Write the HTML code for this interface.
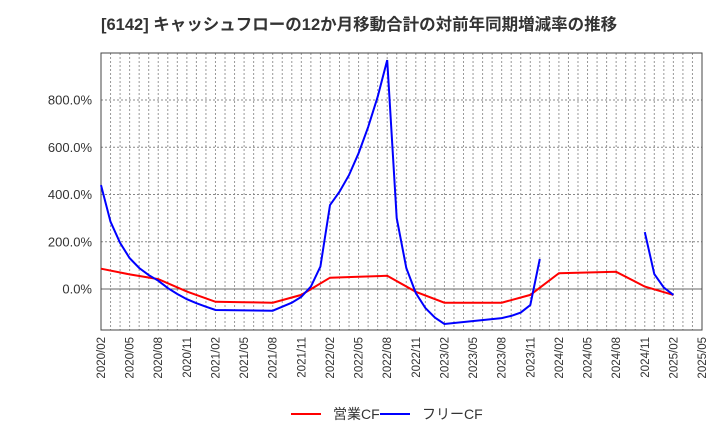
<!DOCTYPE html>
<html><head><meta charset="utf-8"><style>
body{margin:0;background:#fff;font-family:"Liberation Sans","Noto Sans CJK JP",sans-serif;}
</style></head><body>
<svg id="c" width="720" height="440" xmlns="http://www.w3.org/2000/svg" style="font-family:'Liberation Sans','Noto Sans CJK JP',sans-serif">
<text x="101" y="30" font-size="16.5" font-weight="bold" fill="#333">[6142]  キャッシュフローの12か月移動合計の対前年同期増減率の推移</text>
<g id="grid"></g><g id="axes"></g><g id="series"></g>
<g>
<line x1="291" y1="414" x2="321" y2="414" stroke="#f00" stroke-width="2"/>
<text x="333" y="419" font-size="14" fill="#333">営業CF</text>
<line x1="380" y1="414" x2="410" y2="414" stroke="#00f" stroke-width="2"/>
<text x="422" y="419" font-size="14" fill="#333">フリーCF</text>
</g>
</svg>
<script>
const yTicks=[0,200,400,600,800];
const xTickLabels=["2020/02","2020/05","2020/08","2020/11","2021/02","2021/05","2021/08","2021/11","2022/02","2022/05","2022/08","2022/11","2023/02","2023/05","2023/08","2023/11","2024/02","2024/05","2024/08","2024/11","2025/02","2025/05"];
const opMonths=[0,3,6,9,12,15,18,21,24,27,30,33,36,39,42,45,48,51,54,57,60];
const opValues=[86,62,42,-11,-54,-56,-58,-25,48,52,56,-12,-58,-58,-58,-25,67,70,73,10,-25];
const fcfMonths=[0,1,2,3,4,5,6,7,8,9,10,11,12,18,19,20,21,22,23,24,25,26,27,28,29,30,31,32,33,34,35,36,42,43,44,45,46,null,57,58,59,60];
const fcfValues=[440,285,195,131,89,59,35,4,-21,-43,-60,-75,-89,-92,-75,-58,-33,10,95,355,412,482,575,685,814,969,300,89,-17,-80,-121,-148,-123,-114,-100,-68,127,null,241,63,6,-25];
const L=101,R=702,T=53,B=330,NM=63;
const X=m=>L+m*(R-L)/NM;
const Y=v=>289-v*(289-100)/800;
const NS="http://www.w3.org/2000/svg";
function mk(p,t,a){const e=document.createElementNS(NS,t);for(const k in a)e.setAttribute(k,a[k]);p.appendChild(e);return e;}
const grid=document.getElementById('grid'),axes=document.getElementById('axes'),ser=document.getElementById('series');
for(let m=1;m<NM;m++){const l=mk(grid,'line',{x1:X(m),x2:X(m),y1:T,y2:B,stroke:'#999','stroke-dasharray':'2,2','stroke-width':1});

}
yTicks.forEach(v=>{const l=mk(grid,'line',{x1:L,x2:R,y1:Y(v),y2:Y(v),stroke:v===0?'#666':'#888','stroke-dasharray':v===0?'':'2,2','stroke-width':1});


const t=mk(axes,'text',{x:92,y:Y(v)+4.5,'text-anchor':'end','font-size':13,fill:'#333'});t.textContent=v.toFixed(1)+'%';

});
const fr=mk(axes,'rect',{x:L,y:T,width:R-L,height:B-T,fill:'none',stroke:'#444','stroke-width':1});


xTickLabels.forEach((s,i)=>{const x=X(i*3)+4;const t=mk(axes,'text',{x:0,y:0,'text-anchor':'end','font-size':11.5,fill:'#333',transform:`translate(${x},337) rotate(-90)`});t.textContent=s;

});
function path(ms,vs){let d='',pen=false;ms.forEach((m,i)=>{if(m===null||vs[i]===null){pen=false;return;}d+=(pen?'L':'M')+X(m).toFixed(1)+','+Y(vs[i]).toFixed(1);pen=true;});return d;}
const p1=mk(ser,'path',{d:path(opMonths,opValues),fill:'none',stroke:'#f00','stroke-width':2});


const p2=mk(ser,'path',{d:path(fcfMonths,fcfValues),fill:'none',stroke:'#00f','stroke-width':2});


</script>
</body></html>
